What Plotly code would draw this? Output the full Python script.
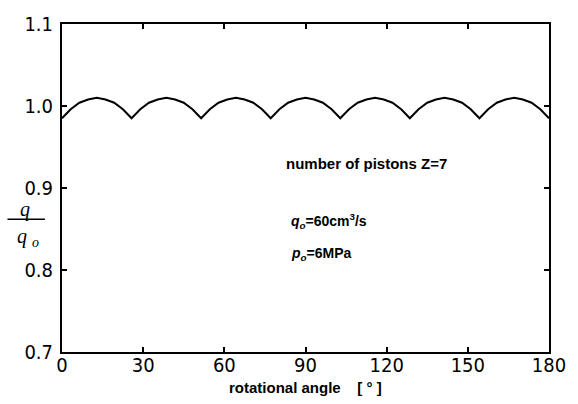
import plotly.graph_objects as go

# rotational angle (deg) and normalized flow q/q0
angle = [0.0, 3.21, 6.43, 9.64, 12.86, 16.07, 19.29, 22.5, 25.71,
         28.93, 32.14, 35.36, 38.57, 41.79, 45.0, 48.21, 51.43,
         54.64, 57.86, 61.07, 64.29, 67.5, 70.71, 73.93, 77.14,
         80.36, 83.57, 86.79, 90.0, 93.21, 96.43, 99.64, 102.86,
         106.07, 109.29, 112.5, 115.71, 118.93, 122.14, 125.36, 128.57,
         131.79, 135.0, 138.21, 141.43, 144.64, 147.86, 151.07, 154.29,
         157.5, 160.71, 163.93, 167.14, 170.36, 173.57, 176.79, 180.0]
flow = [0.985, 0.996, 1.004, 1.008, 1.010, 1.008, 1.004, 0.996, 0.985,
        0.996, 1.004, 1.008, 1.010, 1.008, 1.004, 0.996, 0.985,
        0.996, 1.004, 1.008, 1.010, 1.008, 1.004, 0.996, 0.985,
        0.996, 1.004, 1.008, 1.010, 1.008, 1.004, 0.996, 0.985,
        0.996, 1.004, 1.008, 1.010, 1.008, 1.004, 0.996, 0.985,
        0.996, 1.004, 1.008, 1.010, 1.008, 1.004, 0.996, 0.985,
        0.996, 1.004, 1.008, 1.010, 1.008, 1.004, 0.996, 0.985]

x_ticks = [0, 30, 60, 90, 120, 150, 180]
y_ticks = [0.7, 0.8, 0.9, 1.0, 1.1]
y_tick_labels = ["0.7", "0.8", "0.9", "1.0", "1.1"]

tick_font = dict(family="Liberation Sans Narrow, DejaVu Sans Condensed, Liberation Sans, sans-serif",
                 size=20, color="black")
text_font = dict(family="Liberation Sans, Arial, sans-serif", size=15, color="black",
                 weight="bold")
small_font = dict(family="Liberation Sans, Arial, sans-serif", size=14, color="black",
                  weight="bold")

fig = go.Figure()
fig.add_trace(go.Scatter(x=angle, y=flow, mode="lines",
                         line=dict(color="black", width=2), showlegend=False,
                         hoverinfo="skip"))

fig.update_layout(
    width=578, height=404,
    margin=dict(l=62, r=25, t=15, b=52),
    paper_bgcolor="white", plot_bgcolor="white",
    xaxis=dict(range=[0, 180], tickvals=x_ticks, ticks="inside", ticklen=5,
               tickwidth=1.5, tickcolor="black", showgrid=False, zeroline=False,
               showline=True, linecolor="black", linewidth=2, mirror="ticks",
               tickfont=tick_font, ticklabelstandoff=-6),
    yaxis=dict(range=[0.7, 1.1], tickvals=y_ticks, ticktext=y_tick_labels,
               ticks="inside", ticklen=5, tickwidth=1.5, tickcolor="black",
               showgrid=False, zeroline=False, showline=True, linecolor="black",
               linewidth=2, mirror="ticks", tickfont=tick_font, ticklabelstandoff=3),
)

fig.add_annotation(text="rotational angle    [ ° ]", xref="paper", yref="paper",
                   x=0.5, y=-0.108, xanchor="center", yanchor="middle",
                   showarrow=False, font=text_font)
fig.add_annotation(text="number of pistons Z=7", xref="x", yref="y",
                   x=82.0, y=0.93, xanchor="left", yanchor="middle",
                   showarrow=False, font=text_font)
fig.add_annotation(text="<i>q<sub>o</sub></i>=60cm<sup>3</sup>/s", xref="x", yref="y",
                   x=84.0, y=0.86, xanchor="left", yanchor="middle",
                   showarrow=False, font=small_font)
fig.add_annotation(text="<i>p<sub>o</sub></i>=6MPa", xref="x", yref="y",
                   x=84.0, y=0.819, xanchor="left", yanchor="middle",
                   showarrow=False, font=small_font)

# y-axis label: q / q_o
label_font = dict(family="Liberation Serif, serif", size=20, color="black")
fig.add_annotation(text="<i>q</i>", xref="paper", yref="paper", x=-0.077, y=0.435,
                   xanchor="center", yanchor="middle", showarrow=False, font=label_font)
fig.add_annotation(text="<i>q <sub>o</sub></i>", xref="paper", yref="paper", x=-0.07, y=0.35,
                   xanchor="center", yanchor="middle", showarrow=False, font=label_font)
fig.add_shape(type="line", xref="paper", yref="paper", x0=-0.112, x1=-0.035,
              y0=0.405, y1=0.405, line=dict(color="black", width=1.5))

fig.write_html("out.html")
